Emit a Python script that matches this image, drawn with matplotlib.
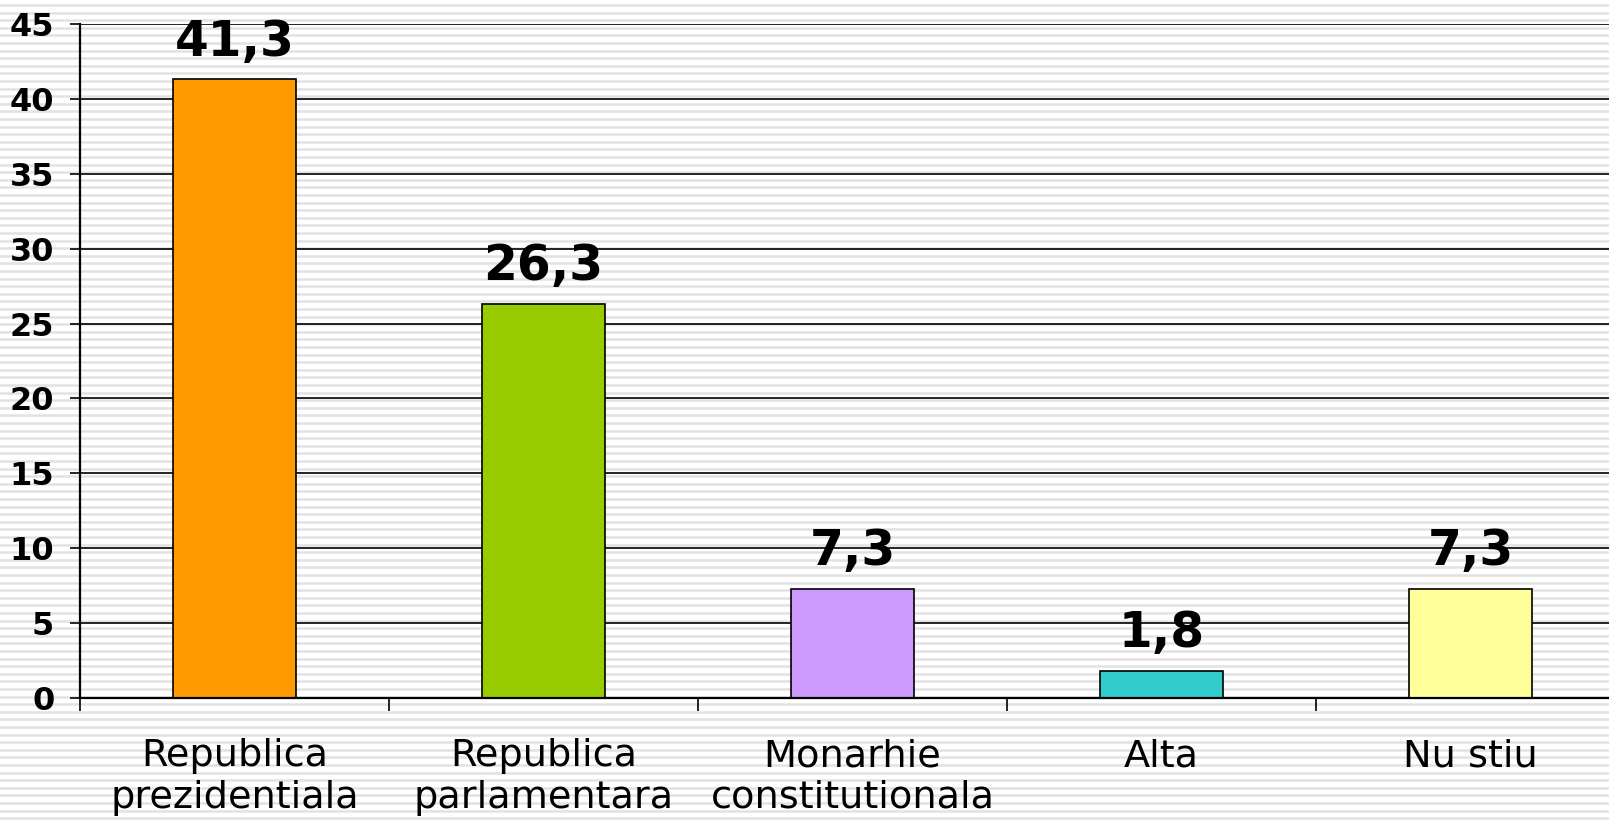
import numpy as np
import matplotlib
matplotlib.use("Agg")
import matplotlib.pyplot as plt

# data
categories = ["Republica\nprezidentiala", "Republica\nparlamentara",
              "Monarhie\nconstitutionala", "Alta", "Nu stiu"]
values = [41.3, 26.3, 7.3, 1.8, 7.3]
value_labels = ["41,3", "26,3", "7,3", "1,8", "7,3"]
colors = ["#FF9900", "#99CC00", "#CC99FF", "#33CCCC", "#FFFF99"]
yticks = [0, 5, 10, 15, 20, 25, 30, 35, 40, 45]

W, H = 1609, 822
fig = plt.figure(figsize=(W / 100, H / 100), dpi=100)
fig.patch.set_facecolor("white")

# striped background over the whole figure
bg = fig.add_axes([0, 0, 1, 1], zorder=0)
bg.set_xlim(0, W)
bg.set_ylim(H, 0)
bg.axis("off")
for y in np.arange(5, H, 7.6):
    bg.axhline(y, color="#e2e2e2", lw=1.8)

# main axes (right edge runs a little past the picture)
ax = fig.add_axes([80 / W, 124 / H, 1545 / W, 674 / H], zorder=1)
ax.patch.set_alpha(0)
x = np.arange(len(categories))
ax.set_xlim(-0.5, len(categories) - 0.5)
ax.set_ylim(0, 45)

for yt in yticks[1:]:
    ax.axhline(yt, color="black", lw=1.2, zorder=1)

ax.bar(x, values, width=0.4, color=colors, edgecolor="black", linewidth=1.2, zorder=2)

for xi, v, lab in zip(x, values, value_labels):
    ax.annotate(lab, (xi, v), xytext=(0, 17), textcoords="offset points",
                ha="center", va="baseline", fontsize=35, fontweight="bold")

ax.set_yticks(yticks)
ax.set_yticklabels([str(t) for t in yticks], fontsize=23, fontweight="bold")
ax.tick_params(axis="y", length=7.5, width=1.2, pad=11)

# boundary ticks below the axis, category names on minor ticks
ax.set_xticks(np.arange(-0.5, len(categories) + 0.5, 1))
ax.set_xticklabels([])
ax.tick_params(axis="x", which="major", length=9, width=1.2, direction="out")
ax.set_xticks(x, minor=True)
ax.set_xticklabels(categories, minor=True, fontsize=27.5, linespacing=1.2)
ax.tick_params(axis="x", which="minor", length=0, pad=29)

for s in ["top", "right"]:
    ax.spines[s].set_visible(False)
ax.spines["left"].set_linewidth(1.6)
ax.spines["bottom"].set_linewidth(1.6)

fig.savefig("out.png", dpi=100)
